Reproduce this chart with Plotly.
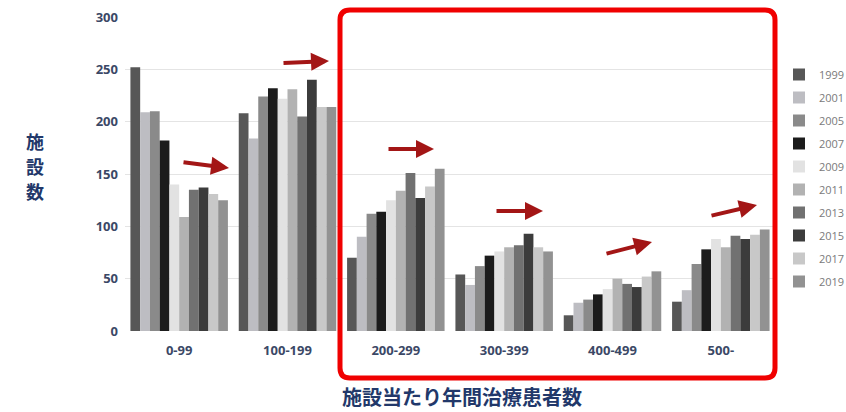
import plotly.graph_objects as go

# Facility counts by annual patients treated per facility, survey years 1999-2019
categories = ["0-99", "100-199", "200-299", "300-399", "400-499", "500-"]
years = ["1999", "2001", "2005", "2007", "2009", "2011", "2013", "2015", "2017", "2019"]

v1999 = [252, 208, 70, 54, 15, 28]
v2001 = [209, 184, 90, 44, 27, 39]
v2005 = [210, 224, 112, 62, 30, 64]
v2007 = [182, 232, 114, 72, 35, 78]
v2009 = [140, 222, 125, 76, 40, 88]
v2011 = [109, 231, 134, 80, 50, 80]
v2013 = [135, 205, 151, 82, 45, 91]
v2015 = [137, 240, 127, 93, 42, 88]
v2017 = [131, 214, 138, 80, 52, 92]
v2019 = [125, 214, 155, 76, 57, 97]

series = [v1999, v2001, v2005, v2007, v2009, v2011, v2013, v2015, v2017, v2019]
colors = ["#575757", "#bdbdc2", "#8a8a8a", "#1c1c1c", "#e2e2e2",
          "#b2b2b2", "#717171", "#3c3c3c", "#c8c8c8", "#929292"]

y_title_chars = ["施", "設", "数"]
x_title = "施設当たり年間治療患者数"

fig = go.Figure()
for yr, vals, col in zip(years, series, colors):
    fig.add_trace(go.Bar(
        x=categories, y=vals, name=yr, legendgroup=yr,
        marker=dict(color=col, line=dict(width=0)),
    ))

W, H = 846, 412
L, R, T, B = 125, 71, 17, 81
pw, ph = W - L - R, H - T - B


def px_x(p):
    return (p - L) / pw


def px_y(p):
    return (H - B - p) / ph


# Trend arrows (pixel positions: tail -> head)
arrows = [
    ((182, 162), (229, 168)),
    ((282, 63), (329, 61)),
    ((387, 149), (434, 149)),
    ((495, 211), (543, 211)),
    ((605, 254), (652, 242)),
    ((710, 216), (757, 205)),
]
annotations = []
for (tx, ty), (hx, hy) in arrows:
    annotations.append(dict(
        x=px_x(hx), y=px_y(hy), xref="paper", yref="paper",
        ax=tx - hx, ay=ty - hy, axref="pixel", ayref="pixel",
        showarrow=True, arrowhead=2, arrowsize=0.9, arrowwidth=4,
        arrowcolor="#a31616", text="",
    ))

title_font = dict(family="Noto Sans CJK JP", size=20, color="#22386a", weight="bold")
ychar_font = dict(family="Noto Sans CJK JP", size=18, color="#22386a", weight="bold")
for i, ch in enumerate(y_title_chars):
    annotations.append(dict(
        x=px_x(35), y=px_y(141 + i * 25), xref="paper", yref="paper",
        xanchor="center", yanchor="middle", borderpad=0,
        text=ch, showarrow=False, font=ychar_font,
    ))
annotations.append(dict(
    x=px_x(462), y=px_y(396), xref="paper", yref="paper",
    xanchor="center", yanchor="middle",
    text=x_title, showarrow=False, font=title_font,
))

# Rounded red frame around the 200+ groups
x0, x1 = px_x(340), px_x(775)
y0, y1 = px_y(378), px_y(10)
rx, ry = 10 / pw, 10 / ph
path = (f"M{x0+rx},{y0} L{x1-rx},{y0} Q{x1},{y0} {x1},{y0+ry} "
        f"L{x1},{y1-ry} Q{x1},{y1} {x1-rx},{y1} "
        f"L{x0+rx},{y1} Q{x0},{y1} {x0},{y1-ry} "
        f"L{x0},{y0+ry} Q{x0},{y0} {x0+rx},{y0} Z")
shapes = [dict(type="path", path=path, xref="paper", yref="paper",
               line=dict(color="#f00000", width=5), fillcolor="rgba(0,0,0,0)")]

tick_font = dict(family="Open Sans", size=13, color="#3b4866", weight="bold")

fig.update_layout(
    width=W, height=H,
    margin=dict(l=L, r=R, t=T, b=B, autoexpand=False),
    paper_bgcolor="white", plot_bgcolor="white",
    barmode="group", bargap=0.1, bargroupgap=0,
    showlegend=True,
    legend=dict(
        x=px_x(779), y=px_y(60), xanchor="left", yanchor="top",
        font=dict(family="Open Sans", size=11, color="#7a7a7a"),
        itemwidth=30, tracegroupgap=4, traceorder="grouped",
        bgcolor="rgba(0,0,0,0)",
    ),
    xaxis=dict(
        showgrid=False, showline=False, ticks="",
        tickfont=tick_font, ticklabelstandoff=10,
    ),
    yaxis=dict(
        range=[0, 300], dtick=50, showgrid=True, gridcolor="#e4e4e4",
        gridwidth=1, zeroline=False, showline=False, ticks="",
        tickfont=tick_font, ticklabelstandoff=6,
    ),
    annotations=annotations,
    shapes=shapes,
)

fig.write_html("out.html")
